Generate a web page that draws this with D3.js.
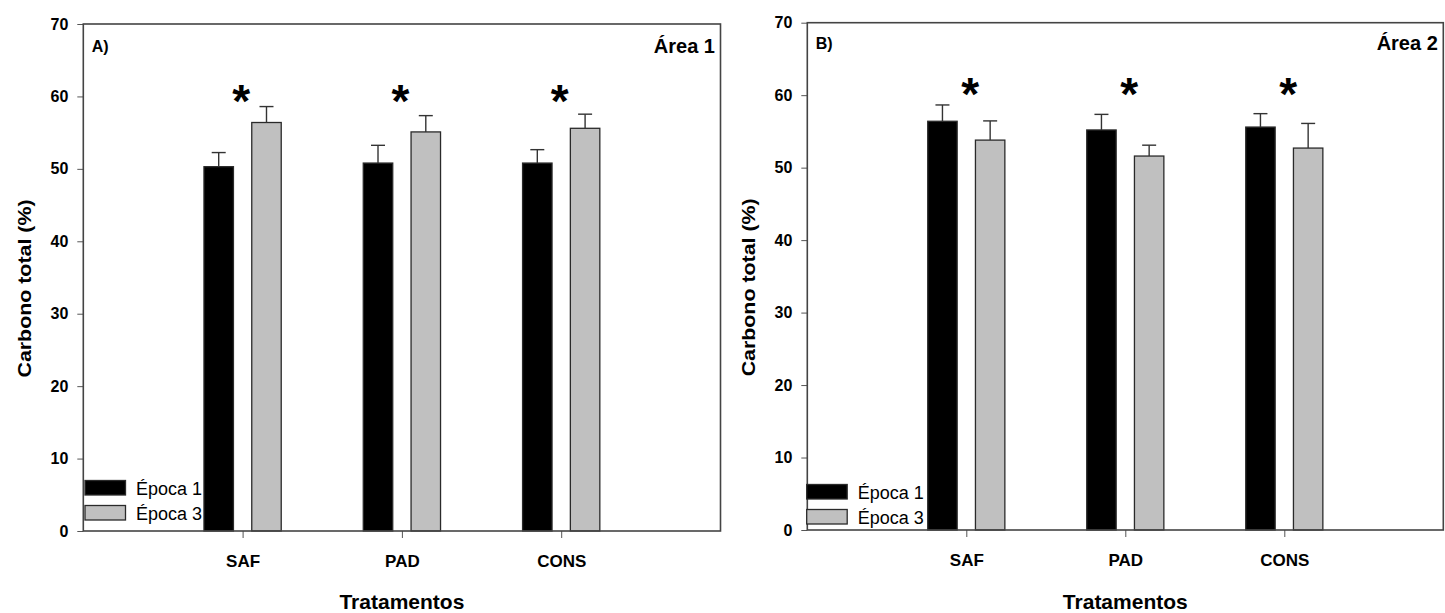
<!DOCTYPE html>
<html>
<head>
<meta charset="utf-8">
<script src="https://cdn.jsdelivr.net/npm/d3@7"></script>
<style>
  html, body { margin: 0; padding: 0; background: #fff; }
  svg { display: block; font-family: "Liberation Sans", Arial, sans-serif; }
</style>
</head>
<body>
<svg id="chart" width="1445" height="613"></svg>
<script>
// Treatments and sampling periods
const categories = ["SAF", "PAD", "CONS"];
const seriesNames = ["Época 1", "Época 3"];
const yTicks = [0, 10, 20, 30, 40, 50, 60, 70];

// Área 1 — total carbon (%) means and standard errors
const area1Epoca1 = [50.3, 50.8, 50.8];
const area1Epoca1Err = [1.95, 2.45, 1.85];
const area1Epoca3 = [56.4, 55.1, 55.6];
const area1Epoca3Err = [2.2, 2.25, 1.95];
const area1Signif = [60.6, 60.6, 60.6];

// Área 2 — total carbon (%) means and standard errors
const area2Epoca1 = [56.4, 55.2, 55.6];
const area2Epoca1Err = [2.25, 2.15, 1.85];
const area2Epoca3 = [53.8, 51.6, 52.7];
const area2Epoca3Err = [2.65, 1.5, 3.4];
const area2Signif = [61.4, 61.4, 61.4];

const fills = ["#000000", "#c0c0c0"];
const svg = d3.select("#chart");

function drawPanel(cfg) {
  const { left, right, top, bottom } = cfg.box;
  const x = d3.scaleLinear().domain([0, categories.length + 1]).range([left, right]);
  const y = d3.scaleLinear().domain([0, 70]).range([bottom, top]);
  const unit = x(1) - x(0);
  const barW = 0.185 * unit;
  const offsets = [-0.15, 0.15];
  const g = svg.append("g");

  const series = [
    { vals: cfg.e1, errs: cfg.e1Err },
    { vals: cfg.e3, errs: cfg.e3Err }
  ];

  // y axis
  g.append("g")
    .attr("transform", `translate(${left},0)`)
    .call(d3.axisLeft(y).tickValues(yTicks).tickSize(6).tickPadding(9).tickSizeOuter(0))
    .call(a => a.select(".domain").remove())
    .call(a => a.selectAll("line").attr("stroke", "#555"))
    .call(a => a.selectAll("text")
      .attr("font-size", 16).attr("font-weight", "bold").attr("fill", "#000")
      .attr("font-family", "'Liberation Sans', Arial, sans-serif"));

  // x axis
  g.append("g")
    .attr("transform", `translate(0,${bottom})`)
    .call(d3.axisBottom(x).tickValues(categories.map((c, i) => i + 1))
      .tickFormat((d, i) => categories[i]).tickSize(7).tickPadding(16.5).tickSizeOuter(0))
    .call(a => a.select(".domain").remove())
    .call(a => a.selectAll("line").attr("stroke", "#555"))
    .call(a => a.selectAll("text")
      .attr("font-size", 17).attr("font-weight", "bold").attr("fill", "#000")
      .attr("font-family", "'Liberation Sans', Arial, sans-serif"));

  // bars
  series.forEach((s, si) => {
    g.append("g").selectAll("rect")
      .data(s.vals)
      .join("rect")
      .attr("x", (d, i) => x(i + 1 + offsets[si]) - barW / 2)
      .attr("width", barW)
      .attr("y", d => y(d))
      .attr("height", d => y(0) - y(d))
      .attr("fill", fills[si])
      .attr("stroke", "#2a2a2a")
      .attr("stroke-width", 1.3);
  });

  // error bars (upper)
  series.forEach((s, si) => {
    const eg = g.append("g").attr("stroke", "#333").attr("stroke-width", 1.4);
    s.vals.forEach((v, i) => {
      const cx = x(i + 1 + offsets[si]);
      eg.append("line").attr("x1", cx).attr("x2", cx)
        .attr("y1", y(v)).attr("y2", y(v + s.errs[i]));
      eg.append("line").attr("x1", cx - 7).attr("x2", cx + 7)
        .attr("y1", y(v + s.errs[i])).attr("y2", y(v + s.errs[i]));
    });
  });

  // significance marks
  const starSize = 46;
  g.append("g").selectAll("text")
    .data(cfg.signif)
    .join("text")
    .attr("x", (d, i) => x(i + 1) + cfg.starShift)
    .attr("y", d => y(d) + 0.55 * starSize)
    .attr("text-anchor", "middle")
    .attr("font-size", starSize)
    .attr("font-weight", "bold")
    .text("*");

  // frame
  g.append("rect")
    .attr("x", left).attr("y", top)
    .attr("width", right - left).attr("height", bottom - top)
    .attr("fill", "none").attr("stroke", "#444").attr("stroke-width", 1.6);

  // panel letter and area title
  g.append("text").attr("x", left + 8.5).attr("y", cfg.letterY)
    .attr("font-size", 16).attr("font-weight", "bold").text(cfg.letter);
  g.append("text").attr("x", right - 5.5).attr("y", cfg.letterY + 1)
    .attr("text-anchor", "end").attr("font-size", 20).attr("font-weight", "bold")
    .text(cfg.title);

  // legend
  const lg = g.append("g");
  seriesNames.forEach((name, si) => {
    const ly = cfg.legendY + si * 25;
    lg.append("rect")
      .attr("x", left + cfg.legendDx).attr("y", ly)
      .attr("width", 40.5).attr("height", 14.5)
      .attr("fill", fills[si]).attr("stroke", "#2a2a2a").attr("stroke-width", 1.3);
    lg.append("text")
      .attr("x", left + cfg.legendDx + 51).attr("y", ly + 14.5)
      .attr("font-size", 18).text(name);
  });

  // axis titles
  g.append("text")
    .attr("x", (left + right) / 2).attr("y", 609)
    .attr("text-anchor", "middle")
    .attr("font-size", 21).attr("font-weight", "bold")
    .text("Tratamentos");
  g.append("text")
    .attr("transform", `translate(${left - 52},${(top + bottom) / 2 + 11}) rotate(-90)`)
    .attr("text-anchor", "middle")
    .attr("font-size", 19).attr("font-weight", "bold")
    .attr("textLength", 178).attr("lengthAdjust", "spacingAndGlyphs")
    .text("Carbono total (%)");
}

drawPanel({
  box: { left: 83.3, right: 720.5, top: 24, bottom: 531 },
  e1: area1Epoca1, e1Err: area1Epoca1Err,
  e3: area1Epoca3, e3Err: area1Epoca3Err,
  signif: area1Signif, starShift: -1.5,
  letter: "A)", title: "Área 1", letterY: 52,
  legendY: 480.5, legendDx: 1.7
});

drawPanel({
  box: { left: 807.3, right: 1443.3, top: 22.7, bottom: 530 },
  e1: area2Epoca1, e1Err: area2Epoca1Err,
  e3: area2Epoca3, e3Err: area2Epoca3Err,
  signif: area2Signif, starShift: 4,
  letter: "B)", title: "Área 2", letterY: 48.5,
  legendY: 484.5, legendDx: -0.6
});
</script>
</body>
</html>
